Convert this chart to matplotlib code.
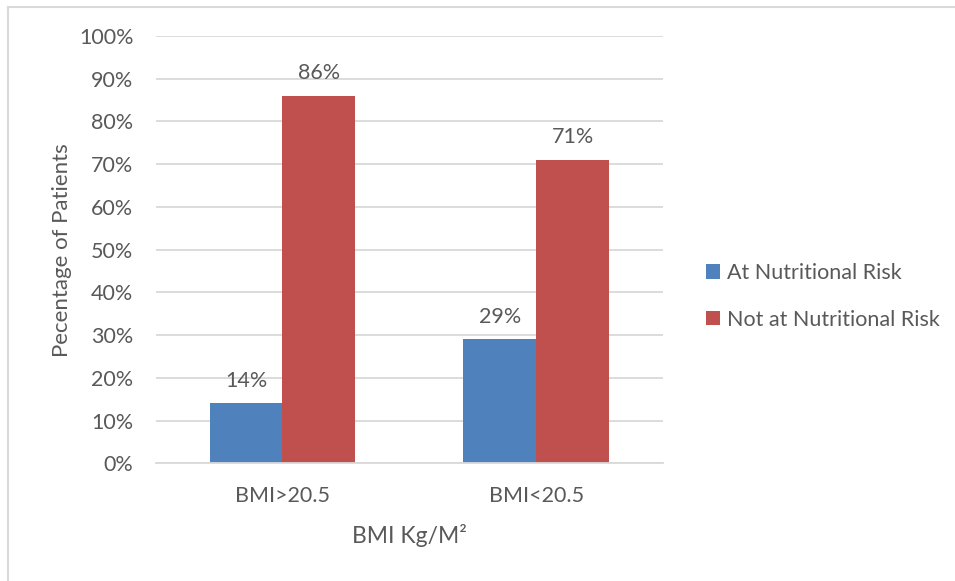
import matplotlib.pyplot as plt
import numpy as np
from matplotlib.lines import Line2D

plt.rcParams['font.family'] = ['Lato', 'DejaVu Sans']

# data
categories = ["BMI>20.5", "BMI<20.5"]
at_risk = [14, 29]
not_at_risk = [86, 71]
series_names = ["At Nutritional Risk", "Not at Nutritional Risk"]

blue = "#4F81BD"
red = "#C0504D"
txt = "#595959"
grid = "#D9D9D9"
fs = 15.5

fig = plt.figure(figsize=(9.55, 5.81), dpi=100)
ax = fig.add_axes([0.163, 0.2026, 0.5312, 0.7354])

x = np.arange(len(categories))
w = 0.287
b1 = ax.bar(x - w / 2, at_risk, w, color=blue, label=series_names[0], zorder=3)
b2 = ax.bar(x + w / 2, not_at_risk, w, color=red, label=series_names[1], zorder=3)

for bars in (b1, b2):
    for r in bars:
        ax.annotate(f"{r.get_height():.0f}%", (r.get_x() + r.get_width() / 2, r.get_height()),
                    xytext=(0, 9), textcoords="offset points", ha="center", va="bottom",
                    fontsize=fs, color=txt)

ax.set_xlim(-0.5, 1.5)
ax.set_ylim(0, 100)
ax.set_yticks(range(0, 101, 10))
ax.set_yticklabels([f"{v}%" for v in range(0, 101, 10)])
ax.set_xticks(x)
ax.set_xticklabels(categories)
ax.yaxis.grid(True, color=grid, linewidth=1.3, zorder=0)
ax.tick_params(axis="both", length=0, labelsize=fs, labelcolor=txt)
ax.tick_params(axis="y", pad=16)
ax.tick_params(axis="x", pad=16)
for s in ["top", "right", "left"]:
    ax.spines[s].set_visible(False)
ax.spines["bottom"].set_color(grid)
ax.spines["bottom"].set_linewidth(1.3)
ax.spines["bottom"].set_zorder(4)

ax.set_ylabel("Pecentage of Patients", fontsize=16, color=txt, labelpad=5)
ax.set_xlabel("BMI Kg/M²", fontsize=16.5, color=txt, labelpad=13)

fig.legend(handles=[b1, b2], labels=series_names, loc="center left",
           bbox_to_anchor=(0.719, 0.490), frameon=False, fontsize=fs,
           labelcolor=txt, handlelength=0.65, handleheight=0.65,
           handletextpad=0.33, labelspacing=1.23)

# thin chart border on the left and top
fig.add_artist(Line2D([8 / 955, 8 / 955], [0, 1 - 7 / 581], color=grid, lw=1.5,
                      transform=fig.transFigure))
fig.add_artist(Line2D([8 / 955, 1], [1 - 7 / 581, 1 - 7 / 581], color=grid, lw=1.5,
                      transform=fig.transFigure))

fig.savefig("out.png", dpi=100)
